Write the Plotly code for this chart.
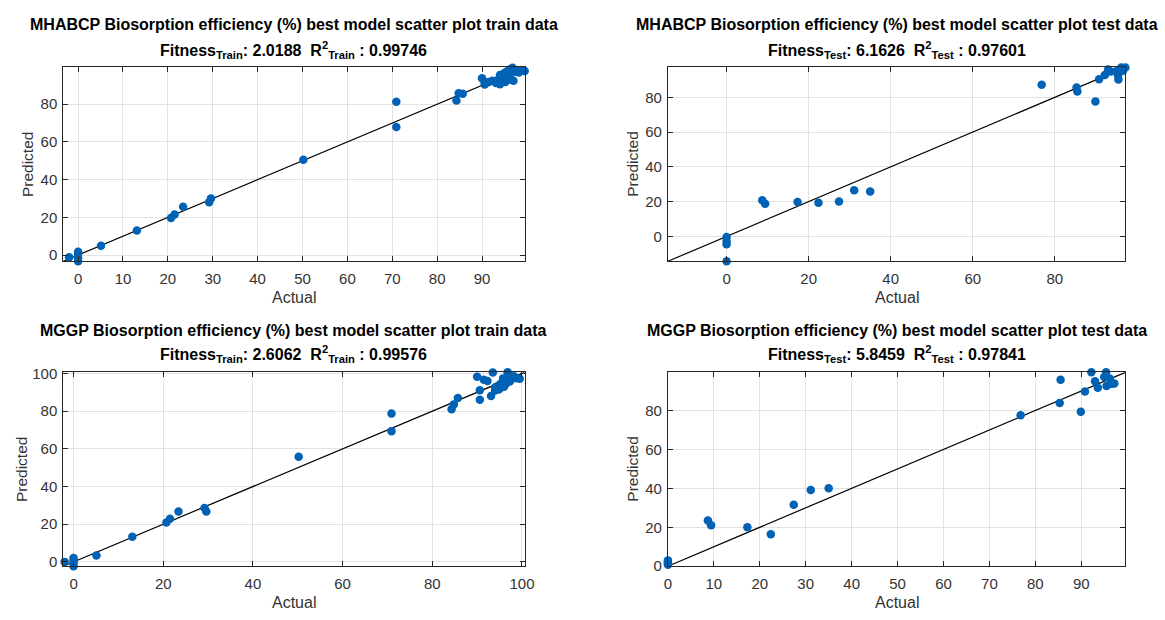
import plotly.graph_objects as go

# ---------------- data ----------------
train_actual = [-2.0, 0.0, 0.0, 0.0, 0.0, 5.1, 13.1, 20.7, 21.5, 23.4, 29.2, 29.6, 50.2,
                70.9, 70.9, 84.3, 84.8, 85.7, 90.0, 90.6, 90.6, 91.5, 92.3, 93.1, 93.5,
                94.0, 94.0, 94.5, 95.0, 95.2, 95.6, 95.8, 96.0, 96.3, 96.5, 96.8, 97.0,
                97.3, 97.6, 98.2, 98.8, 99.5, 94.8, 96.0]
mhabcp_train_pred = [-1.2, 1.8, 0.6, -1.5, -3.3, 4.9, 13.0, 19.7, 21.5, 25.6, 28.0, 30.0, 50.6,
                     81.3, 67.9, 82.0, 85.8, 85.5, 93.7, 90.4, 91.5, 91.8, 92.4, 91.3, 92.8,
                     95.5, 90.6, 93.8, 96.5, 91.8, 97.5, 94.0, 95.5, 98.6, 93.0, 99.3, 92.4,
                     97.2, 98.0, 96.8, 97.8, 97.6, 96.0, 97.0]
mggp_train_pred = [0.0, 2.0, 0.8, -0.5, -2.3, 3.4, 13.4, 20.9, 22.9, 26.7, 28.6, 26.7, 55.8,
                   78.8, 69.4, 81.0, 83.6, 87.0, 98.3, 91.1, 86.0, 96.7, 96.0, 88.0, 100.5,
                   92.5, 91.0, 93.2, 94.0, 92.3, 95.5, 97.4, 93.0, 96.0, 94.8, 100.6, 98.8,
                   95.8, 97.2, 98.5, 97.5, 97.2, 91.5, 96.3]

test_actual = [0.0, 0.0, 0.0, 0.0, 8.7, 9.4, 17.3, 22.4, 27.4, 31.1, 35.0, 76.8, 85.3,
               85.5, 89.9, 90.8, 92.2, 93.0, 93.6, 95.0, 95.4, 95.5, 96.2, 96.6, 97.2]
mhabcp_test_pred = [-0.3, -2.6, -4.5, -14.3, 20.8, 18.8, 19.8, 19.3, 20.1, 26.6, 25.8, 87.3, 85.6,
                    83.3, 77.6, 90.4, 92.8, 96.0, 94.8, 95.0, 92.5, 90.2, 97.2, 95.3, 97.2]
mggp_test_pred = [3.0, 1.3, 0.8, 2.0, 23.5, 21.0, 20.0, 16.4, 31.6, 39.2, 40.0, 77.5, 83.9,
                  95.8, 79.4, 89.7, 99.6, 95.0, 91.7, 97.2, 99.6, 92.6, 96.4, 93.8, 93.9]

titles = [
    "MHABCP Biosorption efficiency (%) best model scatter plot train data",
    "MHABCP Biosorption efficiency (%) best model scatter plot test data",
    "MGGP Biosorption efficiency (%) best model scatter plot train data",
    "MGGP Biosorption efficiency (%) best model scatter plot test data",
]
set_names = ["Train", "Test", "Train", "Test"]
fitness = ["2.0188", "6.1626", "2.6062", "5.8459"]
r2 = ["0.99746", "0.97601", "0.99576", "0.97841"]
x_dtick = [10, 20, 20, 10]
y_dtick = [20, 20, 20, 20]

panels = [
    (train_actual, mhabcp_train_pred),
    (test_actual, mhabcp_test_pred),
    (train_actual, mggp_train_pred),
    (test_actual, mggp_test_pred),
]

# ---------------- layout geometry (pixels) ----------------
W, H = 1165, 620
box_x = [(60, 527), (672, 1135), (60, 527), (672, 1135)]
box_y = [(61, 260), (61, 260), (374, 573), (374, 573)]
title_y = [(17, 43), (17, 43), (331, 355), (331, 355)]
ylabel_x = [24, 636, 17, 636]

BLUE = "#0062b5"
AX = "#262626"
TXT = "#333333"
FONT = "Liberation Sans, Arial, Helvetica, sans-serif"

fig = go.Figure()
layout = dict(width=W, height=H, margin=dict(l=0, r=0, t=0, b=0),
              paper_bgcolor="white", plot_bgcolor="white", showlegend=False,
              font=dict(family=FONT, color=AX))
annotations = []

for i, (xa, ya) in enumerate(panels):
    n = "" if i == 0 else str(i + 1)
    lo = min(min(xa), min(ya))
    hi = max(max(xa), max(ya))
    fig.add_trace(go.Scatter(x=[lo, hi], y=[lo, hi], mode="lines",
                             line=dict(color="black", width=1.2),
                             xaxis="x" + n, yaxis="y" + n, hoverinfo="skip"))
    fig.add_trace(go.Scatter(x=xa, y=ya, mode="markers",
                             marker=dict(color=BLUE, size=8.5, line=dict(width=0)),
                             cliponaxis=False,
                             xaxis="x" + n, yaxis="y" + n))
    common = dict(showline=True, linecolor=AX, linewidth=1, mirror="allticks",
                  ticks="inside", ticklen=5, tickcolor=AX, tickwidth=1,
                  showgrid=True, gridcolor="#e2e2e2", gridwidth=1, zeroline=False,
                  tickfont=dict(size=15, color=TXT, family=FONT))
    xd = [box_x[i][0] / W, box_x[i][1] / W]
    yd = [1 - box_y[i][1] / H, 1 - box_y[i][0] / H]
    layout["xaxis" + n] = dict(common, domain=xd, range=[lo, hi],
                               dtick=x_dtick[i], tick0=0, anchor="y" + n,
                               ticklabelstandoff=4)
    layout["yaxis" + n] = dict(common, domain=yd, range=[lo, hi],
                               dtick=y_dtick[i], tick0=0, anchor="x" + n,
                               ticklabelstandoff=2)
    cx = (box_x[i][0] + box_x[i][1]) / 2 / W
    annotations.append(dict(text="<b>" + titles[i] + "</b>", x=cx, y=1 - title_y[i][0] / H,
                            xref="paper", yref="paper", showarrow=False,
                            xanchor="center", yanchor="middle",
                            font=dict(size=16, color="black", family=FONT)))
    s = set_names[i]
    line2 = ("<b>Fitness<sub>" + s + "</sub>: " + fitness[i] + "\u00a0\u00a0R<sup>2</sup><sub>" + s +
             "</sub> : " + r2[i] + "</b>")
    annotations.append(dict(text=line2, x=cx, y=1 - title_y[i][1] / H,
                            xref="paper", yref="paper", showarrow=False,
                            xanchor="center", yanchor="middle",
                            font=dict(size=16, color="black", family=FONT)))
    # axis labels
    annotations.append(dict(text="Actual", x=cx, y=1 - (box_y[i][1] + 37) / H,
                            xref="paper", yref="paper", showarrow=False,
                            xanchor="center", yanchor="middle",
                            font=dict(size=16, color=TXT, family=FONT)))
    annotations.append(dict(text="Predicted", x=ylabel_x[i] / W,
                            y=1 - (box_y[i][0] + box_y[i][1]) / 2 / H,
                            xref="paper", yref="paper", showarrow=False, textangle=-90,
                            xanchor="center", yanchor="middle",
                            font=dict(size=15.5, color=TXT, family=FONT)))

layout["annotations"] = annotations
fig.update_layout(**layout)
fig.write_html("out.html", config={"displayModeBar": False},
               post_script="document.body.style.margin='0';")
